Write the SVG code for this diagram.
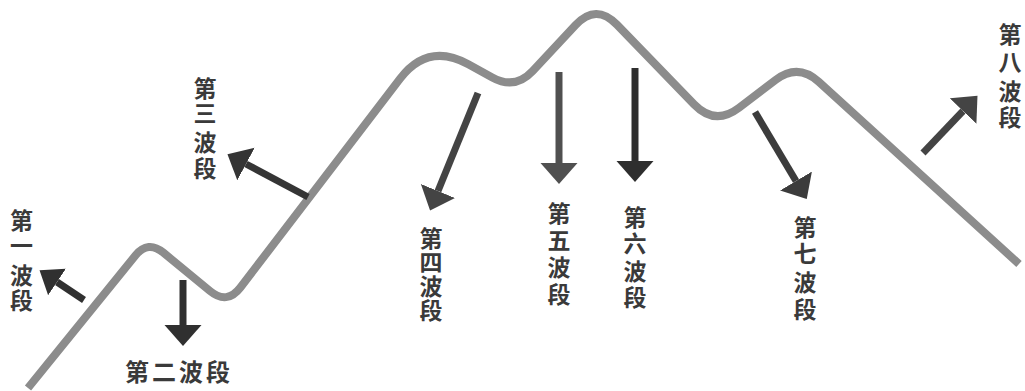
<svg xmlns="http://www.w3.org/2000/svg" width="1025" height="391" viewBox="0 0 1025 391">
<style>
  .wave { fill: none; stroke: #8c8c8c; stroke-width: 8; stroke-linejoin: round; }
  .arr { stroke-width: 7; fill: none; }
  .lbl { font-family: "Noto Sans CJK SC", "Noto Sans", sans-serif; font-weight: bold; font-size: 23px; fill: #3a3a3a; text-anchor: middle; }
  .hz { font-size: 24px; }
</style>
<defs>
  <marker id="ah" markerUnits="userSpaceOnUse" markerWidth="22" markerHeight="38" viewBox="0 -19 22 38" refX="0" refY="0" orient="auto">
    <path d="M0,-18.5 L21,0 L0,18.5 Z" fill="context-stroke"/>
  </marker>
  <marker id="ahs" markerUnits="userSpaceOnUse" markerWidth="22" markerHeight="34" viewBox="0 -17 22 34" refX="0" refY="0" orient="auto">
    <path d="M0,-16 L21,0 L0,16 Z" fill="context-stroke"/>
  </marker>
</defs>
<rect width="1025" height="391" fill="#ffffff"/>
<g id="connectors">
  <path id="wave" class="wave" d="M28,388 L135.4,255.5 Q148,240 163.4,252.7 L210,291 Q227,305 240.4,287.5 L400.1,78.6 Q428,42 468.3,64.2 L492.3,77.4 Q515,90 532.7,71 L575.6,25 Q596,3 616.9,24.6 L694.1,104.4 Q715,126 738.9,107.9 L775.7,79.9 Q798,63 818.7,81.8 L1019,264"/>
  <line id="a1" class="arr" stroke="#303030" x1="84" y1="300" x2="57" y2="282" marker-end="url(#ahs)"/>
  <line id="a2" class="arr" stroke="#303030" x1="183" y1="280" x2="183" y2="325" marker-end="url(#ah)"/>
  <line id="a3" class="arr" stroke="#353535" x1="308" y1="197" x2="246" y2="164" marker-end="url(#ah)"/>
  <line id="a4" class="arr" stroke="#444444" x1="478" y1="93" x2="438" y2="191" marker-end="url(#ah)"/>
  <line id="a5" class="arr" stroke="#505050" x1="559" y1="72" x2="559" y2="163" marker-end="url(#ah)"/>
  <line id="a6" class="arr" stroke="#2e2e2e" x1="635" y1="68" x2="635" y2="161" marker-end="url(#ah)"/>
  <line id="a7" class="arr" stroke="#3c3c3c" x1="755" y1="112" x2="796" y2="181" marker-end="url(#ah)"/>
  <line id="a8" class="arr" stroke="#444444" x1="923" y1="153" x2="963" y2="111" marker-end="url(#ah)"/>
</g>
<g id="wave1"><text class="lbl"><tspan x="21.5" y="229">第</tspan><tspan x="21.5" y="254">一</tspan><tspan x="21.5" y="284">波</tspan><tspan x="21.5" y="309">段</tspan></text></g>
<g id="wave2"><text class="lbl hz" x="137 164 191 218" y="381">第二波段</text></g>
<g id="wave3"><text class="lbl"><tspan x="205" y="97">第</tspan><tspan x="205" y="122">三</tspan><tspan x="205" y="151">波</tspan><tspan x="205" y="177">段</tspan></text></g>
<g id="wave4"><text class="lbl"><tspan x="431" y="247">第</tspan><tspan x="431" y="271">四</tspan><tspan x="431" y="295">波</tspan><tspan x="431" y="319">段</tspan></text></g>
<g id="wave5"><text class="lbl"><tspan x="559" y="222">第</tspan><tspan x="559" y="249">五</tspan><tspan x="559" y="276">波</tspan><tspan x="559" y="303">段</tspan></text></g>
<g id="wave6"><text class="lbl"><tspan x="635" y="226">第</tspan><tspan x="635" y="252">六</tspan><tspan x="635" y="280">波</tspan><tspan x="635" y="306">段</tspan></text></g>
<g id="wave7"><text class="lbl"><tspan x="805" y="236">第</tspan><tspan x="805" y="262">七</tspan><tspan x="805" y="291">波</tspan><tspan x="805" y="318">段</tspan></text></g>
<g id="wave8"><text class="lbl"><tspan x="1010" y="43">第</tspan><tspan x="1010" y="71">八</tspan><tspan x="1010" y="100">波</tspan><tspan x="1010" y="126">段</tspan></text></g>
</svg>
